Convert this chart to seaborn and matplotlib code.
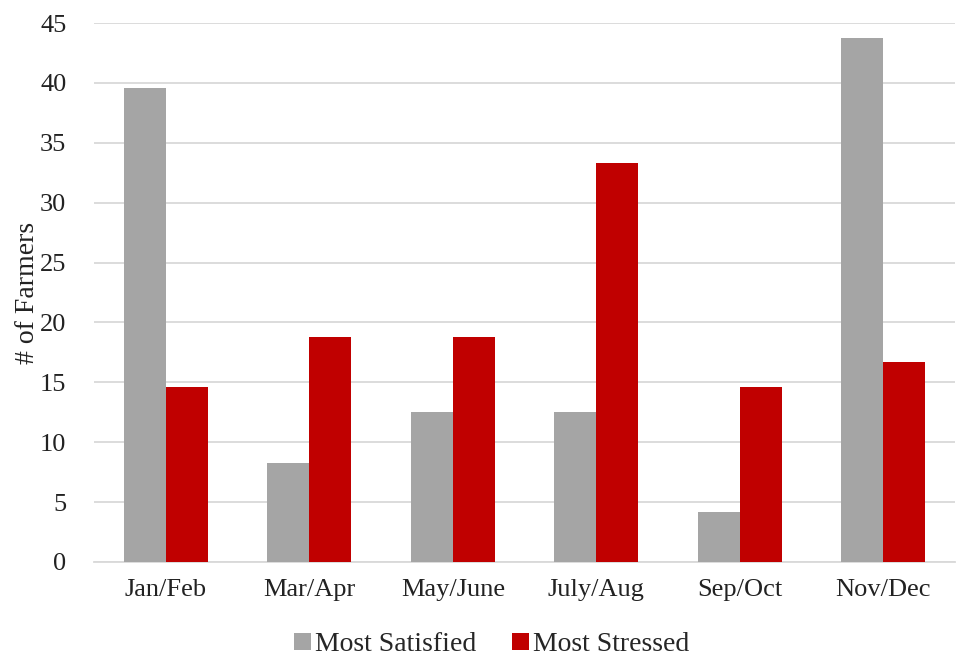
import pandas as pd
import matplotlib.pyplot as plt
import seaborn as sns

# Dados
periodos = ['Jan/Feb', 'Mar/Apr', 'May/June', 'July/Aug', 'Sep/Oct', 'Nov/Dec']
satisfeitos = [39.6, 8.3, 12.5, 12.5, 4.2, 43.75]
estressados = [14.6, 18.75, 18.75, 33.3, 14.6, 16.7]
series = ['Most Satisfied', 'Most Stressed']
cores = ['#A5A5A5', '#C00000']

df = pd.DataFrame({
    'Periodo': periodos * 2,
    'Serie': [series[0]] * len(periodos) + [series[1]] * len(periodos),
    'Valor': satisfeitos + estressados,
})

sns.set_style('white')
plt.rcParams['font.family'] = ['Liberation Serif', 'DejaVu Serif']

fig = plt.figure(figsize=(9.6, 6.58), dpi=100)
ax = fig.add_axes([0.098, 0.146, 0.897, 0.819])

sns.barplot(data=df, x='Periodo', y='Valor', hue='Serie', order=periodos,
            hue_order=series, palette=cores, width=0.585, saturation=1,
            errorbar=None, linewidth=0, ax=ax, zorder=3)

ax.set_ylim(0, 45)
ax.set_yticks(range(0, 46, 5))
ax.yaxis.grid(True, color='#D9D9D9', linewidth=1.3, zorder=0)
ax.set_axisbelow(True)
for lado in ['top', 'right', 'left']:
    ax.spines[lado].set_visible(False)
ax.spines['bottom'].set_color('#D9D9D9')
ax.spines['bottom'].set_linewidth(1.3)
ax.tick_params(axis='both', length=0, labelsize=19, colors='#222222')
ax.tick_params(axis='y', pad=20)
ax.tick_params(axis='x', pad=12)
ax.set_xlabel('')
ax.set_ylabel('# of Farmers', fontsize=20, color='#222222')
ax.yaxis.set_label_coords(-0.063, 0.5)

ax.legend(loc='center', bbox_to_anchor=(0.512, 0.02), bbox_transform=fig.transFigure,
          ncol=2, frameon=False, fontsize=20, handlelength=0.6, handleheight=0.6,
          handletextpad=0.15, columnspacing=1.3, borderpad=0)

plt.savefig('out.png', dpi=100)
plt.close()
